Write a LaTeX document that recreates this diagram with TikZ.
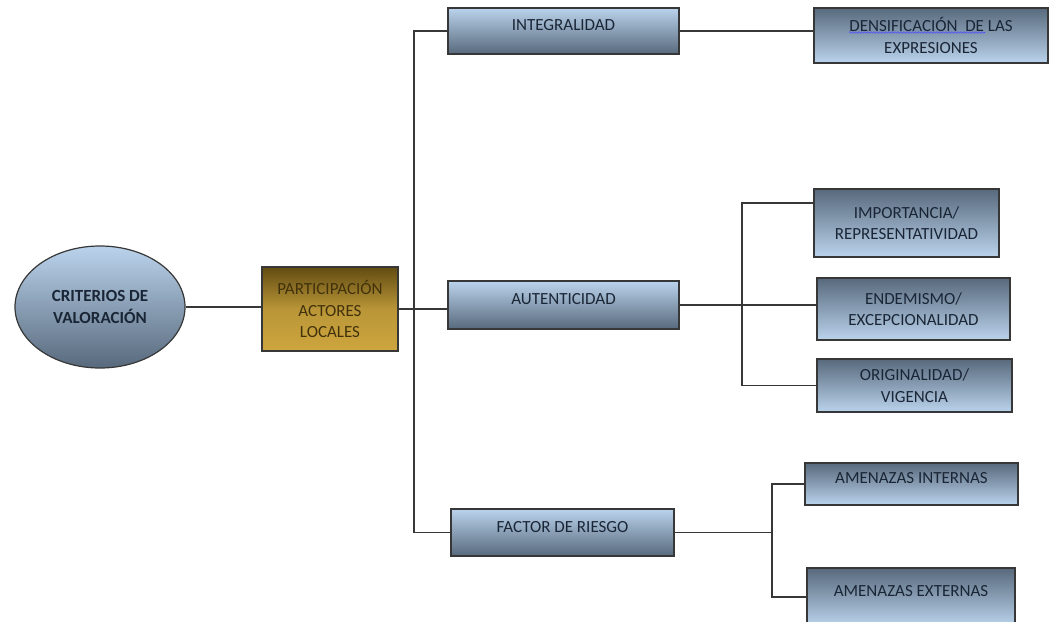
\documentclass[tikz,border=0pt]{standalone}
\usepackage{fontspec}
\setmainfont{Carlito}
\usepackage{tikz}
\usetikzlibrary{positioning,calc}
\usetikzlibrary{shapes.geometric}
\usetikzlibrary{decorations.pathmorphing}

\definecolor{boxlight}{RGB}{186,211,236}
\definecolor{boxdark}{RGB}{88,105,124}
\definecolor{goldlight}{RGB}{206,166,62}
\definecolor{golddark}{RGB}{98,76,18}
\definecolor{txtblue}{RGB}{26,38,54}
\definecolor{txtgold}{RGB}{66,50,12}
\definecolor{linegray}{RGB}{55,55,55}

\begin{document}
\begin{tikzpicture}[x=1pt, y=-1pt,
    every node/.style={font=\fontsize{17}{21.5}\selectfont, align=center, text=txtblue},
    critbox/.style={ellipse, draw=linegray, line width=1.2pt, top color=boxlight, bottom color=boxdark},
    goldbox/.style={rectangle, draw=linegray, line width=1.2pt, top color=golddark, bottom color=goldlight, middle color=goldlight!90!black, text=txtgold},
    topbox/.style={rectangle, draw=linegray, line width=1.2pt, top color=boxlight, bottom color=boxdark},
    subbox/.style={rectangle, draw=linegray, line width=1.2pt, top color=boxdark, bottom color=boxlight},
    liftedtext/.style={text height=11pt, text depth=12pt},
    link/.style={draw=linegray, line width=1.2pt},
    spellwave/.style={draw=blue!70!white, line width=0.6pt, decorate, decoration={snake, amplitude=0.8pt, segment length=3pt}}]
    \useasboundingbox (0,0) rectangle (1059,621);

    % root and local actors
    \node[critbox, minimum width=170, minimum height=122] (crit) at (100,307) {\textbf{CRITERIOS DE}\\\textbf{VALORACIÓN}};
    \node[goldbox, minimum width=136, minimum height=84] (part) at (330,309) {PARTICIPACIÓN\\ACTORES\\LOCALES};

    % first level
    \node[topbox, liftedtext, minimum width=231, minimum height=46] (integ) at (563.5,31) {INTEGRALIDAD};
    \node[topbox, liftedtext, minimum width=231, minimum height=48] (auten) at (563.5,305) {AUTENTICIDAD};
    \node[topbox, liftedtext, minimum width=223, minimum height=47] (factor) at (562.5,532.5) {FACTOR DE RIESGO};

    % second level
    \node[subbox, minimum width=234, minimum height=55] (dens) at (931,35.5) {DENSIFICACIÓN\ \ DE LAS\\EXPRESIONES};
    \node[subbox, minimum width=185, minimum height=68] (impor) at (906.5,223) {IMPORTANCIA/\\REPRESENTATIVIDAD};
    \node[subbox, minimum width=193, minimum height=62] (endem) at (913.5,309) {ENDEMISMO/\\EXCEPCIONALIDAD};
    \node[subbox, minimum width=195, minimum height=53] (orig) at (914.5,385.5) {ORIGINALIDAD/\\VIGENCIA};
    \node[subbox, liftedtext, minimum width=213, minimum height=42] (amint) at (911.5,484) {AMENAZAS INTERNAS};
    \node[subbox, liftedtext, minimum width=208, minimum height=58] (amext) at (911,597) {AMENAZAS EXTERNAS};

    \draw[spellwave] ($(dens.center)+(-82,-3)$) -- ($(dens.center)+(54,-3)$);

    % connectors
    \coordinate (trunk) at (414,0);
    \coordinate (fork1) at (742,203);
    \coordinate (fork2) at (772,0);
    \draw[link] (crit.east) -- (crit.east -| part.west);
    \draw[link] (part.east) -- (part.east -| auten.west);
    \draw[link] (integ.west) -- (integ.west -| trunk) -- (factor.west -| trunk) -- (factor.west);
    \draw[link] (integ.east) -- (integ.east -| dens.west);
    \draw[link] (auten.east) -- (auten.east -| endem.west);
    \draw[link] (fork1 -| impor.west) -- (fork1) -- (orig.west -| fork1) -- (orig.west);
    \draw[link] (factor.east) -- (factor.east -| fork2);
    \draw[link] (amint.west) -- (amint.west -| fork2) -- (amext.west -| fork2) -- (amext.west);
\end{tikzpicture}
\end{document}
